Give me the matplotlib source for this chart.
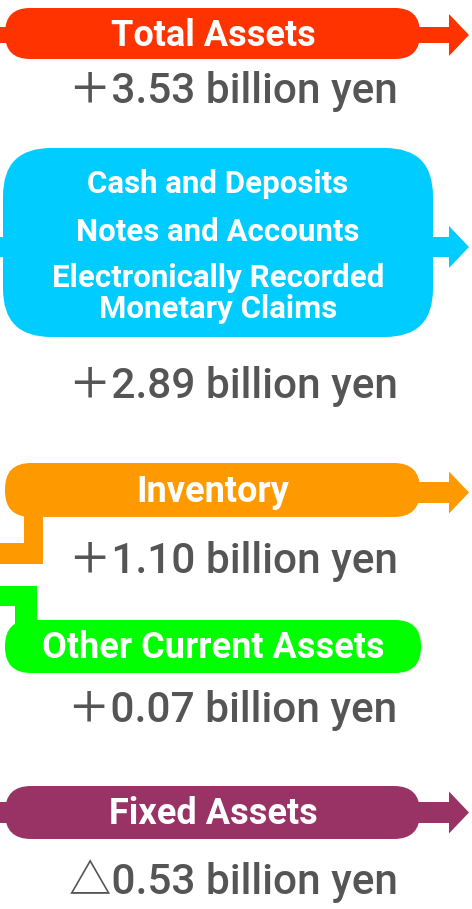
import matplotlib.pyplot as plt
from matplotlib.patches import FancyBboxPatch, Polygon, Rectangle

# data
labels = [
    "Total Assets",
    "Cash and Deposits\nNotes and Accounts\nElectronically Recorded\nMonetary Claims",
    "Inventory",
    "Other Current Assets",
    "Fixed Assets",
]
signs = ["＋", "＋", "＋", "＋", "△"]
amounts = [3.53, 2.89, 1.10, 0.07, 0.53]
colors = ["#FF3300", "#00CCFF", "#FF9900", "#00FF00", "#993366"]

# layout (pixels, y down)
boxes = [(5, 8, 415, 51), (3, 148, 430, 189), (5, 463, 415, 54),
         (5, 620, 416, 53), (5, 786, 415, 53)]
radius = [25, 48, 26, 26, 26]
shafts = [(27, 43), (237, 257), (482, 503), None, (802, 823)]
left_stub = [True, True, False, False, True]
value_base = [103, 398, 573, 722, 894]

W, H = 472, 909
fig = plt.figure(figsize=(W / 100, H / 100), dpi=100)
ax = fig.add_axes([0, 0, 1, 1])
ax.set_xlim(0, W)
ax.set_ylim(H, 0)
ax.axis("off")

lab_font = ["Roboto", "DejaVu Sans"]
val_font = ["Roboto", "Noto Sans CJK JP", "DejaVu Sans"]

for i in range(len(labels)):
    x, y, w, h = boxes[i]
    c = colors[i]
    ax.add_patch(FancyBboxPatch(
        (x, y), w, h,
        boxstyle=f"round,pad=0,rounding_size={radius[i]}",
        fc=c, ec="none"
    ))

    if shafts[i] is not None:
        y0, y1 = shafts[i]
        ax.add_patch(Rectangle((x + w - 5, y0), 455 - (x + w - 5), y1 - y0, fc=c, ec="none"))
        mid = (y0 + y1) / 2
        ax.add_patch(Polygon(
            [(449, mid - 21), (469, mid), (449, mid + 21)],
            closed=True, fc=c, ec="none"
        ))
        if left_stub[i]:
            ax.add_patch(Rectangle((0, y0), 20, y1 - y0, fc=c, ec="none"))

    # label
    if i == 1:
        ys = [184, 232, 278, 309]
        for t, ty in zip(labels[i].split("\n"), ys):
            ax.text(218, ty, t, color="white", fontsize=22.5, fontweight="bold",
                    family=lab_font, ha="center", va="center")
    else:
        ax.text(213, y + h / 2 + 2, labels[i], color="white", fontsize=26,
                fontweight="bold", family=lab_font, ha="center", va="center")

    ax.text(233, value_base[i], f"{signs[i]}{amounts[i]:.2f} billion yen",
            color="#555555", fontsize=30.5, fontweight="medium", family=val_font,
            ha="center", va="baseline")

# connector from inventory
ax.add_patch(Rectangle((24, 500), 19, 64, fc=colors[2], ec="none"))
ax.add_patch(Rectangle((0, 543), 43, 21, fc=colors[2], ec="none"))

# connector into other current assets
ax.add_patch(Rectangle((0, 586), 37, 20, fc=colors[3], ec="none"))
ax.add_patch(Rectangle((15, 586), 22, 40, fc=colors[3], ec="none"))

fig.savefig("out.png", dpi=100, facecolor="white")
